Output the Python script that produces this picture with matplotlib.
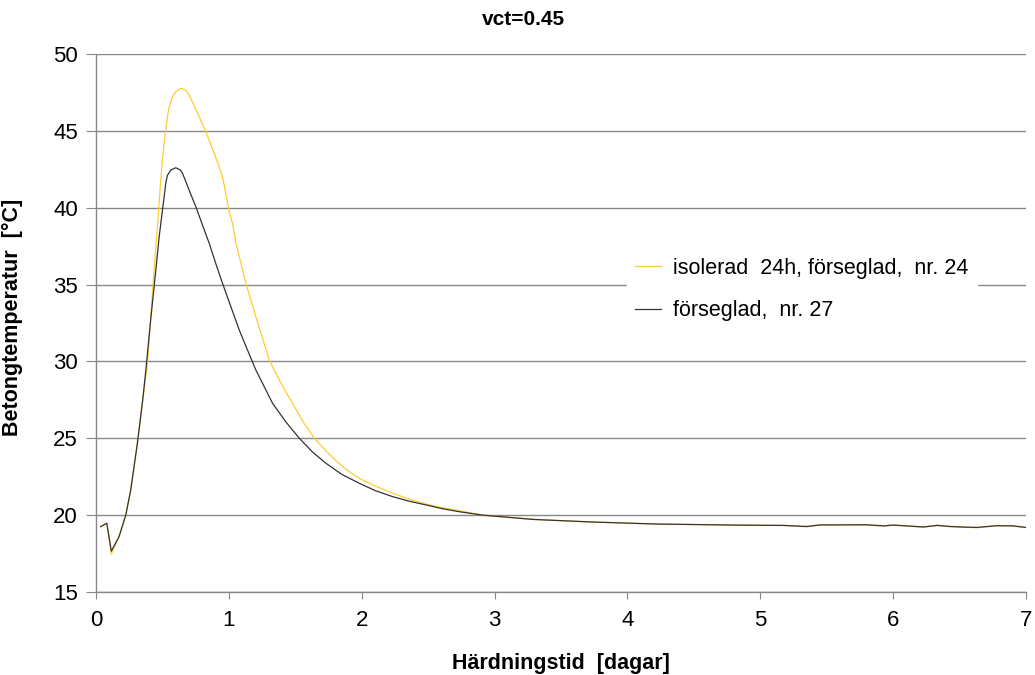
import matplotlib
matplotlib.use("Agg")
import matplotlib.pyplot as plt

plt.rcParams['font.family'] = ['Liberation Sans', 'DejaVu Sans']

# isolerad 24h, förseglad, nr. 24
x_iso = [0.035, 0.081, 0.115, 0.173, 0.224, 0.261, 0.311, 0.350, 0.387, 0.412, 0.437,
         0.462, 0.487, 0.500, 0.512, 0.525, 0.537, 0.550, 0.575, 0.600, 0.638, 0.676,
         0.700, 0.751, 0.827, 0.900, 0.952, 0.977, 1.000, 1.027, 1.053, 1.128, 1.203,
         1.304, 1.341, 1.41, 1.479, 1.56, 1.643, 1.75, 1.856, 1.92, 1.982, 2.10, 2.233,
         2.36, 2.485, 2.60, 2.735, 2.91, 3.29, 3.74, 4.22, 4.82, 5.17, 5.35, 5.45, 5.80,
         5.93, 6.00, 6.23, 6.33, 6.43, 6.54, 6.63, 6.78, 6.90, 7.00]
y_iso = [19.25, 19.47, 17.47, 18.60, 20.01, 21.63, 24.67, 27.4, 29.88, 32.9, 35.95,
         38.76, 41.80, 43.1, 44.2, 45.1, 45.9, 46.55, 47.22, 47.55, 47.77, 47.65,
         47.35, 46.4, 44.94, 43.3, 42.0, 40.9, 39.85, 38.98, 37.7, 35.08, 32.9,
         30.09, 29.44, 28.3, 27.27, 26.05, 25.0, 24.0, 23.15, 22.75, 22.39, 21.9, 21.42,
         21.03, 20.72, 20.5, 20.29, 20.0, 19.72, 19.55, 19.42, 19.35, 19.33, 19.24, 19.37, 19.37,
         19.29, 19.36, 19.21, 19.34, 19.25, 19.21, 19.18, 19.32, 19.30, 19.18]

# förseglad, nr. 27
x_fors = [0.035, 0.081, 0.115, 0.173, 0.224, 0.261, 0.311, 0.350, 0.375, 0.41, 0.45,
          0.475, 0.50, 0.525, 0.537, 0.563, 0.600, 0.635, 0.65, 0.676, 0.70, 0.751,
          0.80, 0.852, 0.90, 0.952, 1.015, 1.078, 1.14, 1.203, 1.329, 1.43, 1.53, 1.63,
          1.731, 1.85, 1.982, 2.10, 2.233, 2.36, 2.485, 2.60, 2.735, 2.91, 3.29, 3.74, 4.22,
          4.82, 5.17, 5.35, 5.45, 5.80, 5.93, 6.00, 6.23, 6.33, 6.43, 6.54, 6.63, 6.78,
          6.90, 7.00]
y_fors = [19.25, 19.47, 17.66, 18.60, 20.01, 21.63, 24.67, 27.4, 29.44, 32.6, 35.95,
          38.1, 39.85, 41.6, 42.1, 42.45, 42.60, 42.45, 42.25, 41.7, 41.15, 40.07,
          38.9, 37.68, 36.4, 35.08, 33.56, 32.04, 30.74, 29.44, 27.27, 26.05, 25.0, 24.1,
          23.37, 22.65, 22.07, 21.6, 21.20, 20.9, 20.66, 20.43, 20.22, 20.0, 19.72, 19.55, 19.42,
          19.35, 19.33, 19.26, 19.36, 19.37, 19.30, 19.35, 19.23, 19.33, 19.26, 19.22, 19.20,
          19.31, 19.30, 19.20]

yticks = [15, 20, 25, 30, 35, 40, 45, 50]
xticks = [0, 1, 2, 3, 4, 5, 6, 7]

fig = plt.figure(figsize=(10.35, 6.75), dpi=100)
ax = fig.add_axes([0.0928, 0.123, 0.8985, 0.797])

ax.plot(x_iso, y_iso, color='#FFCC33', lw=0.9, label='isolerad  24h, förseglad,  nr. 24')
ax.plot(x_fors, y_fors, color='#333333', lw=0.9, label='förseglad,  nr. 27')

ax.set_xlim(0, 7)
ax.set_ylim(15, 50)
ax.set_xticks(xticks)
ax.set_yticks(yticks)
ax.yaxis.grid(True, color='#888888', lw=1.0)
ax.set_axisbelow(True)
for s in ['top', 'right']:
    ax.spines[s].set_visible(False)
for s in ['left', 'bottom']:
    ax.spines[s].set_color('#888888')
    ax.spines[s].set_linewidth(1.0)
ax.tick_params(axis='y', direction='out', length=7, color='#888888', labelsize=16, pad=6)
ax.tick_params(axis='x', direction='out', length=5, color='#888888', labelsize=16, pad=8)

ax.set_xlabel('Härdningstid  [dagar]', fontsize=15.5, fontweight='bold', labelpad=16)
ax.set_ylabel('Betongtemperatur  [°C]', fontsize=15.5, fontweight='bold')
ax.yaxis.set_label_coords(-0.079, 0.51)
fig.text(0.506, 0.985, 'vct=0.45', ha='center', va='top', fontsize=15, fontweight='bold')

leg = ax.legend(loc='upper left', bbox_to_anchor=(0.5705, 0.637), frameon=True, fontsize=15.5,
                handlelength=1.2, handletextpad=0.55, borderpad=0.4, labelspacing=1.0,
                borderaxespad=0)
leg.get_frame().set_edgecolor('white')
leg.get_frame().set_facecolor('white')
leg.get_frame().set_alpha(1.0)

fig.savefig('out.png', dpi=100)
